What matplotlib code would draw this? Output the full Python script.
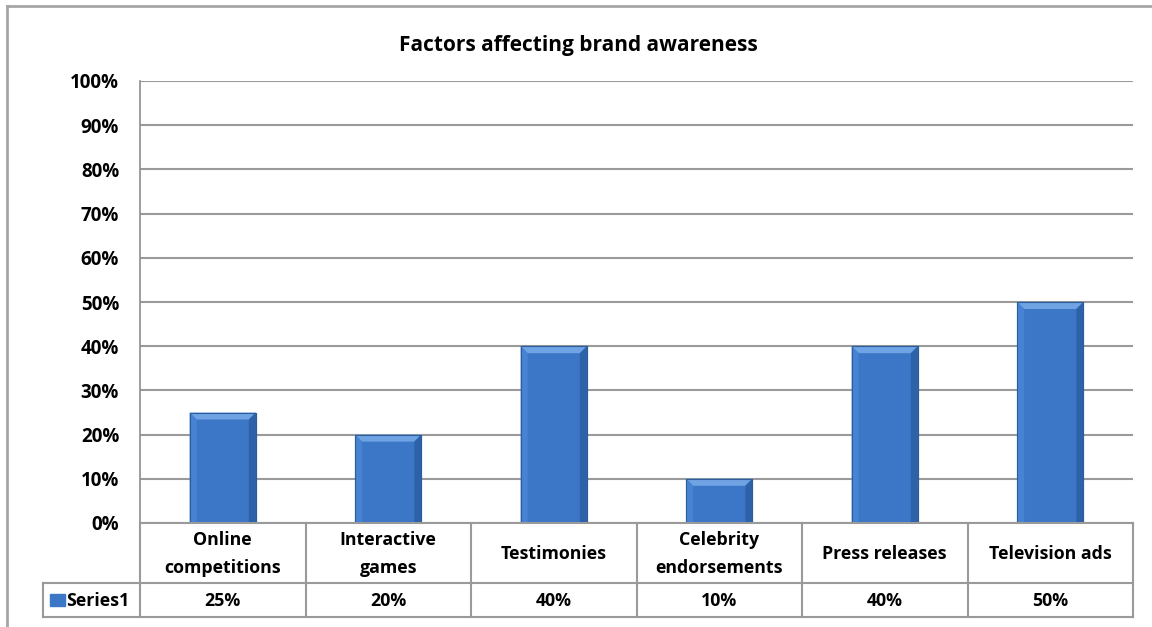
import matplotlib
matplotlib.use("Agg")
import matplotlib.pyplot as plt
import numpy as np
from matplotlib.patches import Rectangle, Polygon
from matplotlib.lines import Line2D

title = "Factors affecting brand awareness"
categories = ["Online\ncompetitions", "Interactive\ngames", "Testimonies",
              "Celebrity\nendorsements", "Press releases", "Television ads"]
values = [25, 20, 40, 10, 40, 50]
value_labels = ["25%", "20%", "40%", "10%", "40%", "50%"]
series_name = "Series1"
yticks = list(range(0, 101, 10))
ytick_labels = [f"{t}%" for t in yticks]

plt.rcParams['font.family'] = ['Open Sans', 'DejaVu Sans']
plt.rcParams['font.weight'] = 'bold'

W, H = 1152, 627
fig = plt.figure(figsize=(W / 100, H / 100), dpi=100)

def fx(px):
    return px / W

def fy(py):
    return 1 - py / H

FS = 12.8
TFS = 13.5

# outer chart border (top + left visible)
grey = '#a6a6a6'
fig.add_artist(Line2D([fx(7), 1.0], [fy(6), fy(6)], color=grey, lw=2, transform=fig.transFigure))
fig.add_artist(Line2D([fx(7), fx(7)], [fy(6), 0.0], color=grey, lw=2, transform=fig.transFigure))

L, R, T, B = 140, 1133, 81, 523
ax = fig.add_axes([fx(L), fy(B), fx(R) - fx(L), fy(T) - fy(B)])
n = len(categories)
ax.set_xlim(0, n)
ax.set_ylim(0, 100)
ax.set_yticks(yticks)
ax.set_yticklabels(ytick_labels, fontsize=TFS, fontweight='bold')
ax.tick_params(axis='y', length=0, pad=15)
ax.set_xticks([])
for s in ['top', 'right', 'bottom']:
    ax.spines[s].set_visible(False)
ax.spines['left'].set_color('#8c8c8c')
ax.spines['left'].set_linewidth(1.2)
ax.yaxis.grid(True, color='#9a9a9a', lw=1.5)
ax.set_axisbelow(True)

x = np.arange(n) + 0.5
bw = 0.4
bars = ax.bar(x, values, width=bw, color='#3b77c6', edgecolor='#2c5e9e', lw=0.8, zorder=3)

# bevel highlights using data coordinates
px_to_y = 100 / (B - T)
px_to_x = n / (R - L)
bev = 7
for xi, v in zip(x, values):
    x0, x1 = xi - bw / 2, xi + bw / 2
    dy = bev * px_to_y
    dx = bev * px_to_x
    ax.add_patch(Polygon([[x0, v], [x1, v], [x1 - dx, v - dy], [x0 + dx, v - dy]],
                         closed=True, color='#6fa3e3', zorder=4, lw=0))
    ax.add_patch(Polygon([[x0, v], [x0 + dx, v - dy], [x0 + dx, 0], [x0, 0]],
                         closed=True, color='#4783d2', zorder=4, lw=0))
    ax.add_patch(Polygon([[x1, v], [x1 - dx, v - dy], [x1 - dx, 0], [x1, 0]],
                         closed=True, color='#2d62a8', zorder=4, lw=0))
    ax.add_patch(Rectangle((x0, 0), bw, v, fill=False, edgecolor='#2c5e9e', lw=0.8, zorder=5))

# data table below
tcol = '#9a9a9a'
row1_bot, row2_bot = 583, 617
tbl_left = 43
def hline(x0, x1, y):
    fig.add_artist(Line2D([fx(x0), fx(x1)], [fy(y), fy(y)], color=tcol, lw=1.5, transform=fig.transFigure))
def vline(xp, y0, y1):
    fig.add_artist(Line2D([fx(xp), fx(xp)], [fy(y0), fy(y1)], color=tcol, lw=1.5, transform=fig.transFigure))

hline(L, R, B)
hline(tbl_left, R, row1_bot)
hline(tbl_left, R, row2_bot)
vline(tbl_left, row1_bot, row2_bot)
cw = (R - L) / n
for i in range(n + 1):
    vline(L + i * cw, B, row2_bot)

for i, (c, vl) in enumerate(zip(categories, value_labels)):
    cx = L + (i + 0.5) * cw
    fig.text(fx(cx), fy((B + row1_bot) / 2 + 1), c, ha='center', va='center',
             fontsize=FS, fontweight='bold', linespacing=1.65)
    fig.text(fx(cx), fy((row1_bot + row2_bot) / 2 + 1), vl, ha='center', va='center',
             fontsize=FS, fontweight='bold')

# legend key + series name
fig.add_artist(Rectangle((fx(50), fy(606)), fx(15), fy(594) - fy(606), color='#3b77c6',
                         transform=fig.transFigure))
fig.text(fx(66), fy((row1_bot + row2_bot) / 2 + 1), series_name, ha='left', va='center',
         fontsize=FS, fontweight='bold')

fig.text(fx(578), fy(45), title, ha='center', va='center', fontsize=15, fontweight='bold')

fig.savefig("out.png", dpi=100, facecolor='white')
